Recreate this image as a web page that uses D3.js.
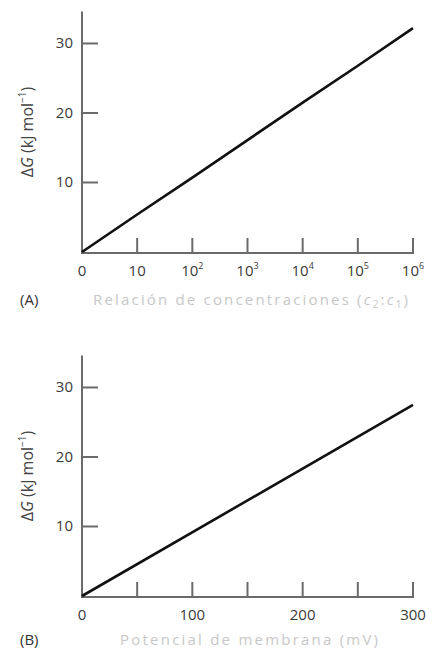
<!DOCTYPE html>
<html><head><meta charset="utf-8">
<script src="https://cdn.jsdelivr.net/npm/d3@7"></script>
<style>body{margin:0;background:#fff}svg{display:block}text{font-family:"Open Sans",sans-serif}</style>
</head><body>
<script>
// Panel A: concentration ratio (log decades) vs ΔG
const ratioExp = [0, 1, 2, 3, 4, 5, 6];
const ratioLabels = ["0", "10", "10|2", "10|3", "10|4", "10|5", "10|6"];
const dGRatio = [0, 5.4, 10.7, 16.1, 21.5, 26.8, 32.2];
// Panel B: membrane potential vs ΔG
const potential = [0, 300];
const dGPotential = [0, 27.5];
const potTicks = [0, 50, 100, 150, 200, 250, 300];
const potLabels = [0, 100, 200, 300];
const yTicks = [10, 20, 30];

const W = 439, H = 652;
const svg = d3.select("body").append("svg").attr("width", W).attr("height", H);

const axisCol = "#6a6a6a", labCol = "#3a3a3a", titleCol = "#c8c8c8";

function panel(cfg) {
  const g = svg.append("g");
  const x = d3.scaleLinear().domain(cfg.xDomain).range([82, 413]);
  const y = d3.scaleLinear().domain([0, 34.6]).range([cfg.y0, cfg.y0 - 240.5]);
  g.append("line").attr("x1", x(cfg.xDomain[0])).attr("x2", x(cfg.xDomain[0]))
    .attr("y1", y(0)).attr("y2", y(34.6)).attr("stroke", axisCol).attr("stroke-width", 2);
  g.append("line").attr("x1", x(cfg.xDomain[0]) - 1).attr("x2", x(cfg.xDomain[1]) + 1)
    .attr("y1", y(0) + 1).attr("y2", y(0) + 1).attr("stroke", axisCol).attr("stroke-width", 2);
  yTicks.forEach(v => {
    g.append("line").attr("x1", x(cfg.xDomain[0])).attr("x2", x(cfg.xDomain[0]) + 16)
      .attr("y1", y(v)).attr("y2", y(v)).attr("stroke", axisCol).attr("stroke-width", 2);
    g.append("text").attr("x", 73).attr("y", y(v) + 5).attr("text-anchor", "end")
      .attr("font-size", 15).attr("fill", labCol).text(v);
  });
  cfg.xTicks.forEach(v => {
    if (v === cfg.xDomain[0]) return;
    g.append("line").attr("x1", x(v)).attr("x2", x(v))
      .attr("y1", y(0) + 1).attr("y2", y(0) - 14).attr("stroke", axisCol).attr("stroke-width", 2);
  });
  cfg.xLabels.forEach((lab, i) => {
    const v = cfg.xLabelPos[i];
    const t = g.append("text").attr("x", x(v)).attr("y", y(0) + 24).attr("text-anchor", "middle")
      .attr("font-size", 15).attr("fill", labCol);
    const s = String(lab).split("|");
    t.append("tspan").text(s[0]);
    if (s[1]) t.append("tspan").attr("dy", -7).attr("font-size", 9).text(s[1]);
  });
  const line = d3.line().x(d => x(d[0])).y(d => y(d[1]));
  g.append("path").datum(cfg.xs.map((v, i) => [v, cfg.ys[i]]))
    .attr("d", line).attr("fill", "none").attr("stroke", "#111").attr("stroke-width", 2.6);
  const yt = g.append("text").attr("transform", `translate(33,${cfg.y0 - 120}) rotate(-90)`)
    .attr("text-anchor", "middle").attr("font-size", 16).attr("fill", "#444");
  yt.append("tspan").text("Δ");
  yt.append("tspan").attr("font-style", "italic").text("G");
  yt.append("tspan").text(" (kJ mol");
  yt.append("tspan").attr("dy", -7).attr("font-size", 10).text("−1");
  yt.append("tspan").attr("dy", 7).text(")");
  g.append("text").attr("x", 20).attr("y", cfg.y0 + cfg.titleDy).attr("font-size", 15)
    .attr("fill", "#333").text(cfg.letter);
  const xt = g.append("text").attr("x", cfg.titleX0).attr("y", cfg.y0 + cfg.titleDy)
    .attr("font-size", 15).attr("fill", titleCol)
    .attr("textLength", cfg.titleLen).attr("lengthAdjust", "spacing");
  cfg.title(xt);
}

panel({
  xDomain: [0, 6], xTicks: ratioExp, xLabels: ratioLabels, xLabelPos: ratioExp,
  xs: ratioExp, ys: dGRatio, y0: 252, letter: "(A)", titleX0: 93, titleLen: 315, titleDy: 53,
  title: t => {
    t.append("tspan").text("Relación de concentraciones (");
    t.append("tspan").attr("font-style", "italic").text("c");
    t.append("tspan").attr("dy", 3).attr("font-size", 10).text("2");
    t.append("tspan").attr("dy", -3).text(":");
    t.append("tspan").attr("font-style", "italic").text("c");
    t.append("tspan").attr("dy", 3).attr("font-size", 10).text("1");
    t.append("tspan").attr("dy", -3).text(")");
  }
});

panel({
  xDomain: [0, 300], xTicks: potTicks, xLabels: potLabels, xLabelPos: potLabels,
  xs: potential, ys: dGPotential, y0: 596, letter: "(B)", titleX0: 120, titleLen: 258, titleDy: 49,
  title: t => t.text("Potencial de membrana (mV)")
});
</script>
</body></html>
